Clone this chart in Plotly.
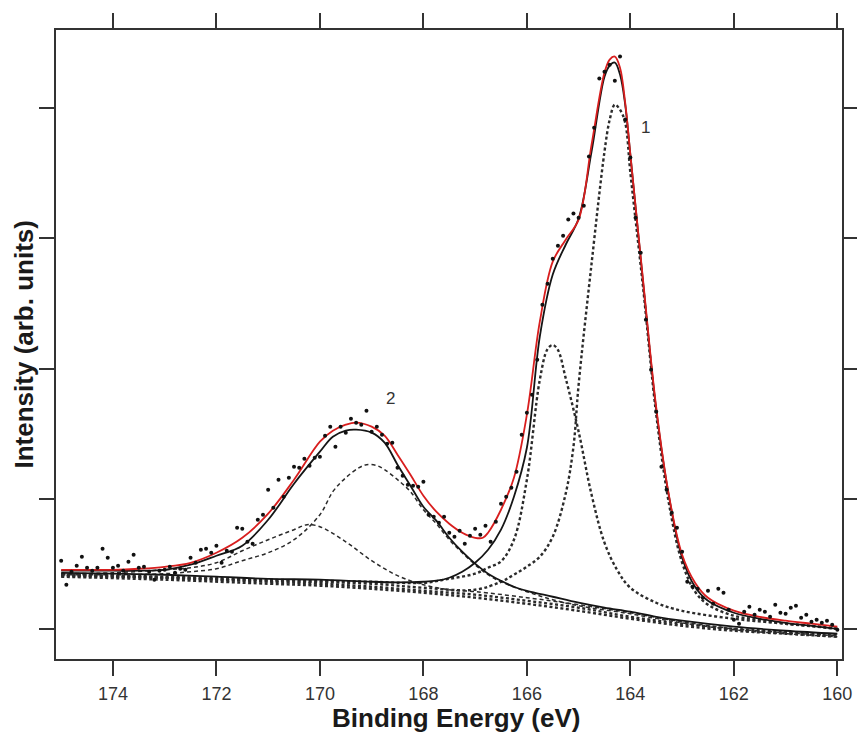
import plotly.graph_objects as go

# ---------------- data (binding energy in eV, intensity in arb. units) ----------------
data_be = [175.0,174.9,174.8,174.7,174.6,174.5,174.4,174.3,174.2,174.1,
           174.0,173.9,173.8,173.7,173.6,173.5,173.4,173.3,173.2,173.1,
           173.0,172.9,172.8,172.7,172.6,172.5,172.4,172.3,172.2,172.1,
           172.0,171.9,171.8,171.7,171.6,171.5,171.4,171.3,171.2,171.1,
           171.0,170.9,170.8,170.7,170.6,170.5,170.4,170.3,170.2,170.1,
           170.0,169.9,169.8,169.7,169.6,169.5,169.4,169.3,169.2,169.1,
           169.0,168.9,168.8,168.7,168.6,168.5,168.4,168.3,168.2,168.1,
           168.0,167.9,167.8,167.7,167.6,167.5,167.4,167.3,167.2,167.1,
           167.0,166.9,166.8,166.7,166.6,166.5,166.4,166.3,166.2,166.1,
           166.0,165.9,165.8,165.7,165.6,165.5,165.4,165.3,165.2,165.1,
           165.0,164.9,164.8,164.7,164.6,164.5,164.4,164.3,164.2,164.1,
           164.0,163.9,163.8,163.7,163.6,163.5,163.4,163.3,163.2,163.1,
           163.0,162.9,162.8,162.7,162.6,162.5,162.4,162.3,162.2,162.1,
           162.0,161.9,161.8,161.7,161.6,161.5,161.4,161.3,161.2,161.1,
           161.0,160.9,160.8,160.7,160.6,160.5,160.4,160.3,160.2,160.1,
           160.0]
data_int = [0.525,0.340,0.440,0.486,0.555,0.471,0.448,0.471,0.617,0.548,
            0.471,0.486,0.448,0.517,0.571,0.471,0.478,0.440,0.379,0.448,
            0.455,0.478,0.432,0.463,0.455,0.548,0.509,0.609,0.617,0.586,
            0.640,0.509,0.601,0.594,0.778,0.770,0.671,0.655,0.839,0.878,
            1.070,0.932,1.147,1.016,1.162,1.247,1.239,1.308,1.254,1.316,
            1.323,1.485,1.554,1.400,1.554,1.508,1.615,1.585,1.569,1.677,
            1.515,1.554,1.492,1.423,1.431,1.239,1.177,1.108,1.101,1.093,
            1.131,0.878,0.863,0.816,0.863,0.740,0.709,0.755,0.655,0.717,
            0.770,0.724,0.793,0.671,0.824,0.962,1.016,1.085,1.208,1.492,
            1.661,1.800,2.068,2.491,2.652,2.844,2.944,3.021,3.144,3.190,
            3.159,3.251,3.628,3.850,4.227,4.280,4.334,4.211,4.396,3.912,
            3.620,3.159,2.890,2.376,1.992,1.669,1.247,1.070,0.893,0.778,
            0.594,0.363,0.325,0.310,0.240,0.294,0.194,0.310,0.279,0.148,
            0.071,0.041,0.133,0.171,0.110,0.148,0.133,0.094,0.187,0.125,
            0.118,0.164,0.179,0.087,0.110,0.056,0.071,0.048,0.064,0.033,
            -0.005]

# total fit envelope (red)
total_be = [175.0,174.0,173.5,173.0,172.5,172.0,171.5,171.0,170.5,170.0,169.75,169.5,169.3,
            169.0,168.75,168.5,168.25,168.0,167.75,167.5,167.25,167.0,166.85,166.75,166.5,
            166.25,166.0,165.75,165.5,165.25,165.0,164.75,164.5,164.4,164.3,164.2,164.1,
            164.0,163.75,163.5,163.25,163.0,162.75,162.5,162.0,161.5,161.0,160.5,160.0]
total_int = [0.455,0.455,0.463,0.478,0.509,0.586,0.701,0.886,1.147,1.439,1.523,1.569,1.585,
             1.554,1.485,1.339,1.185,1.024,0.901,0.809,0.740,0.701,0.701,0.740,0.916,
             1.162,1.646,2.360,2.821,2.990,3.144,3.720,4.273,4.373,4.396,4.311,4.042,
             3.643,2.660,1.700,1.016,0.571,0.356,0.240,0.141,0.094,0.064,0.041,0.018]

# envelope of doublet 1 + background (black)
env1_be = [175.0,174.0,173.0,172.0,171.0,170.0,169.0,168.5,168.0,167.75,167.5,167.25,167.0,
           166.75,166.5,166.25,166.0,165.75,165.5,165.25,165.0,164.75,164.5,164.4,164.3,
           164.2,164.1,164.0,163.75,163.5,163.25,163.0,162.75,162.5,162.0,161.5,161.0,160.5,160.0]
env1_int = [0.432,0.425,0.417,0.402,0.386,0.379,0.363,0.359,0.363,0.371,0.394,0.440,0.509,
            0.609,0.763,1.016,1.392,2.246,2.722,2.951,3.152,3.666,4.242,4.327,4.350,
            4.258,4.027,3.643,2.645,1.684,1.009,0.548,0.325,0.217,0.125,0.079,0.048,0.025,0.002]

# envelope of doublet 2 + background (black)
env2_be = [175.0,174.0,173.5,173.0,172.5,172.0,171.5,171.0,170.5,170.0,169.75,169.5,169.3,
           169.0,168.75,168.5,168.25,168.0,167.75,167.5,167.25,167.0,166.75,166.5,166.25,
           166.0,165.5,165.0,164.5,164.0,163.5,163.0,162.0,161.0,160.0]
env2_int = [0.448,0.448,0.448,0.455,0.494,0.563,0.640,0.839,1.116,1.362,1.477,1.524,1.531,
            1.508,1.431,1.262,1.101,0.939,0.832,0.701,0.594,0.502,0.425,0.371,0.325,
            0.294,0.248,0.202,0.164,0.133,0.094,0.064,0.018,-0.013,-0.036]

# components of doublet 2 (dashed)
c2a_be = [175.0,174.0,173.0,172.5,172.0,171.5,171.0,170.5,170.25,170.0,169.5,169.0,168.5,
          168.0,167.5,167.0,166.0,165.0,164.0,163.0,162.0,161.0,160.0]
c2a_int = [0.425,0.432,0.455,0.471,0.509,0.601,0.686,0.763,0.801,0.786,0.670,0.525,0.410,
           0.340,0.302,0.287,0.241,0.187,0.125,0.056,0.002,-0.028,-0.051]
c2b_be = [175.0,174.0,173.0,172.5,172.0,171.5,171.0,170.5,170.0,169.75,169.5,169.25,169.1,
          168.9,168.75,168.5,168.25,168.0,167.75,167.5,167.25,167.0,166.75,166.5,166.0,
          165.5,165.0,164.0,163.0,162.0,161.0,160.0]
c2b_int = [0.417,0.417,0.425,0.440,0.463,0.525,0.586,0.686,0.878,1.055,1.162,1.237,1.262,
           1.255,1.224,1.147,1.055,0.916,0.809,0.686,0.586,0.494,0.417,0.363,0.287,
           0.225,0.179,0.117,0.048,-0.005,-0.036,-0.059]

# components of doublet 1 (dotted)
c1a_be = [175.0,173.0,171.0,169.0,168.0,167.0,166.5,166.25,166.0,165.75,165.5,165.25,165.1,
          165.0,164.75,164.5,164.4,164.3,164.2,164.1,164.0,163.75,163.5,163.25,163.0,
          162.75,162.5,162.0,161.5,161.0,160.5,160.0]
c1a_int = [0.409,0.394,0.371,0.348,0.317,0.302,0.363,0.417,0.479,0.555,0.709,1.040,1.400,
           1.876,2.806,3.666,3.910,4.027,3.988,3.888,3.505,2.606,1.646,0.954,0.510,
           0.287,0.187,0.102,0.071,0.041,0.025,0.002]
c1b_be = [175.0,173.0,171.0,169.0,168.0,167.5,167.0,166.75,166.5,166.25,166.0,165.75,165.6,
          165.5,165.4,165.25,165.0,164.75,164.5,164.25,164.0,163.5,163.0,162.0,161.0,160.0]
c1b_int = [0.417,0.402,0.379,0.363,0.355,0.386,0.425,0.471,0.520,0.686,1.147,1.914,2.150,
           2.181,2.143,1.927,1.516,1.032,0.663,0.450,0.317,0.202,0.140,0.079,0.041,0.002]

# backgrounds (dotted)
bg_be = [175.0,173.0,171.0,170.0,169.0,168.0,167.0,166.0,165.0,164.0,163.0,162.0,161.0,160.0]
bg1_int = [0.417,0.394,0.363,0.348,0.325,0.294,0.264,0.217,0.164,0.094,0.041,0.002,-0.021,-0.044]
bg2_int = [0.402,0.379,0.348,0.333,0.309,0.279,0.241,0.194,0.140,0.079,0.025,-0.013,-0.036,-0.059]

x_ticks = [160, 162, 164, 166, 168, 170, 172, 174]
y_ticks = [0, 1, 2, 3, 4]
labels = [("1", 163.70, 3.85), ("2", 168.63, 1.77)]

# ---------------- figure ----------------
fig = go.Figure()
dark = "#2b2b2b"
comp2_line = dict(color=dark, width=1.5, dash="4px,3px")
comp1_line = dict(color=dark, width=2.4, dash="3px,2.5px")

for bx, by in [(bg_be, bg1_int), (bg_be, bg2_int)]:
    fig.add_trace(go.Scatter(x=bx, y=by, mode="lines", line=comp1_line,
                             line_shape="spline", hoverinfo="skip"))
for bx, by in [(c2a_be, c2a_int), (c2b_be, c2b_int)]:
    fig.add_trace(go.Scatter(x=bx, y=by, mode="lines", line=comp2_line,
                             line_shape="spline", hoverinfo="skip"))
for bx, by in [(c1a_be, c1a_int), (c1b_be, c1b_int)]:
    fig.add_trace(go.Scatter(x=bx, y=by, mode="lines", line=comp1_line,
                             line_shape="spline", hoverinfo="skip"))
for bx, by in [(env1_be, env1_int), (env2_be, env2_int)]:
    fig.add_trace(go.Scatter(x=bx, y=by, mode="lines",
                             line=dict(color="#151515", width=1.8),
                             line_shape="spline", hoverinfo="skip"))
fig.add_trace(go.Scatter(x=total_be, y=total_int, mode="lines",
                         line=dict(color="#d81e1e", width=1.8),
                         line_shape="spline", hoverinfo="skip"))
fig.add_trace(go.Scatter(x=data_be, y=data_int, mode="markers",
                         marker=dict(color="#111111", size=4), hoverinfo="skip"))

for txt, lx, ly in labels:
    fig.add_annotation(x=lx, y=ly, text=txt, showarrow=False,
                       font=dict(size=17, color="#333333"))

# axis titles
fig.add_annotation(xref="paper", yref="paper", x=0.5, y=0, xshift=7, yshift=-59,
                   yanchor="middle", text="<b>Binding Energy (eV)</b>", showarrow=False,
                   font=dict(size=26, color="#1a1a1a"))
fig.add_annotation(xref="paper", yref="paper", x=0, y=0.5, xshift=-33, xanchor="center",
                   text="<b>Intensity (arb. units)</b>", textangle=-90, showarrow=False,
                   font=dict(size=26, color="#1a1a1a"))

axis_common = dict(showgrid=False, zeroline=False, showline=True, linecolor="#333333",
                   linewidth=1.8, ticks="outside", ticklen=15, tickwidth=1.8,
                   tickcolor="#333333", mirror="ticks", automargin=False)
fig.update_xaxes(range=[175.10, 159.91], tickvals=x_ticks,
                 ticktext=[str(v) for v in x_ticks], ticklabelstandoff=2,
                 tickfont=dict(size=18, color="#333333"), **axis_common)
fig.update_yaxes(range=[-0.23, 4.60], tickvals=y_ticks, showticklabels=False, **axis_common)

fig.update_layout(width=857, height=736, autosize=False,
                  margin=dict(l=56, r=15, t=30, b=77),
                  paper_bgcolor="white", plot_bgcolor="white", showlegend=False,
                  font=dict(family="Arial, Liberation Sans, sans-serif"))

fit_js = ("document.documentElement.style.overflow='hidden';"
          "document.body.style.overflow='hidden';document.body.style.margin='0';"
          "var gd=document.getElementById('{plot_id}');"
          "Plotly.relayout(gd,{width:857,height:736});")
fig.write_html("out.html", config={"responsive": False}, post_script=fit_js)
